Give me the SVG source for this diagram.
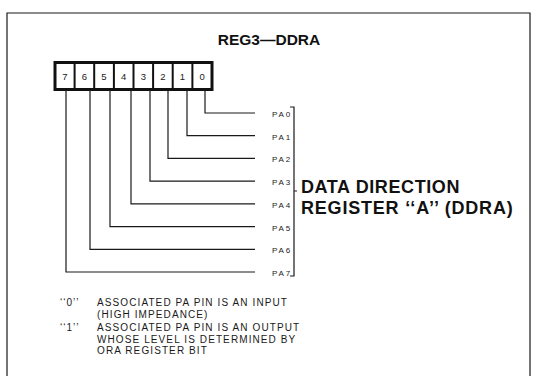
<svg xmlns="http://www.w3.org/2000/svg" width="537" height="376" viewBox="0 0 537 376">
<style>
.ln{fill:none;stroke:#1a1a1a;stroke-width:1.2}
.bit{font-family:"Liberation Sans",Arial,sans-serif;font-size:9.5px;fill:#1a1a1a;text-anchor:middle}
.pa{font-family:"Liberation Sans",Arial,sans-serif;font-size:8px;letter-spacing:1.8px;fill:#1a1a1a}
.hd{font-family:"Liberation Sans",Arial,sans-serif;font-weight:bold;fill:#111}
.nt{font-family:"Liberation Sans",Arial,sans-serif;font-size:10px;letter-spacing:1.1px;fill:#1a1a1a}
</style>
<rect width="537" height="376" fill="#fff"/>
<path class="ln" d="M7,376 V13 H530 V376"/>
<text class="hd" x="269" y="45" font-size="15.5" text-anchor="middle">REG3—DDRA</text>
<g id="register">
<rect x="55" y="62.5" width="157" height="27" fill="#fff" stroke="#111" stroke-width="3"/>
<g stroke="#111" stroke-width="2">
<line x1="74.6" y1="63" x2="74.6" y2="89"/><line x1="94.2" y1="63" x2="94.2" y2="89"/>
<line x1="113.9" y1="63" x2="113.9" y2="89"/><line x1="133.5" y1="63" x2="133.5" y2="89"/>
<line x1="153.1" y1="63" x2="153.1" y2="89"/><line x1="172.7" y1="63" x2="172.7" y2="89"/>
<line x1="192.4" y1="63" x2="192.4" y2="89"/>
</g>
<text class="bit" x="64.8" y="79.5">7</text><text class="bit" x="84.4" y="79.5">6</text>
<text class="bit" x="104" y="79.5">5</text><text class="bit" x="123.7" y="79.5">4</text>
<text class="bit" x="143.3" y="79.5">3</text><text class="bit" x="162.9" y="79.5">2</text>
<text class="bit" x="182.5" y="79.5">1</text><text class="bit" x="202.2" y="79.5">0</text>
</g>
<g id="connectors">
<path class="ln" d="M205,90 V113 H255"/>
<path class="ln" d="M187,90 V135.7 H255"/>
<path class="ln" d="M168,90 V158.4 H255"/>
<path class="ln" d="M150,90 V181.1 H255"/>
<path class="ln" d="M131,90 V203.9 H255"/>
<path class="ln" d="M110,90 V226.6 H255"/>
<path class="ln" d="M90,90 V249.3 H255"/>
<path class="ln" d="M66,90 V272 H255"/>
</g>
<g id="pins">
<text class="pa" x="272" y="117">PA0</text>
<text class="pa" x="272" y="139.7">PA1</text>
<text class="pa" x="272" y="162.4">PA2</text>
<text class="pa" x="272" y="185.1">PA3</text>
<text class="pa" x="272" y="207.9">PA4</text>
<text class="pa" x="272" y="230.6">PA5</text>
<text class="pa" x="272" y="253.3">PA6</text>
<text class="pa" x="272" y="276">PA7</text>
</g>
<g id="bracket">
<path class="ln" d="M290,107 H294 V276 H290 M294,191 H297"/>
</g>
<g id="label">
<text class="hd" x="301" y="193" font-size="18" letter-spacing="0.6">DATA DIRECTION</text>
<text class="hd" x="301" y="214" font-size="18" letter-spacing="0.8">REGISTER ‘‘A’’ (DDRA)</text>
</g>
<g id="notes">
<text class="nt" x="60" y="306">‘‘0’’</text>
<text class="nt" x="97" y="306">ASSOCIATED PA PIN IS AN INPUT</text>
<text class="nt" x="97" y="317.5">(HIGH IMPEDANCE)</text>
<text class="nt" x="60" y="331">‘‘1’’</text>
<text class="nt" x="97" y="331">ASSOCIATED PA PIN IS AN OUTPUT</text>
<text class="nt" x="97" y="342.5">WHOSE LEVEL IS DETERMINED BY</text>
<text class="nt" x="97" y="354">ORA REGISTER BIT</text>
</g>
</svg>
